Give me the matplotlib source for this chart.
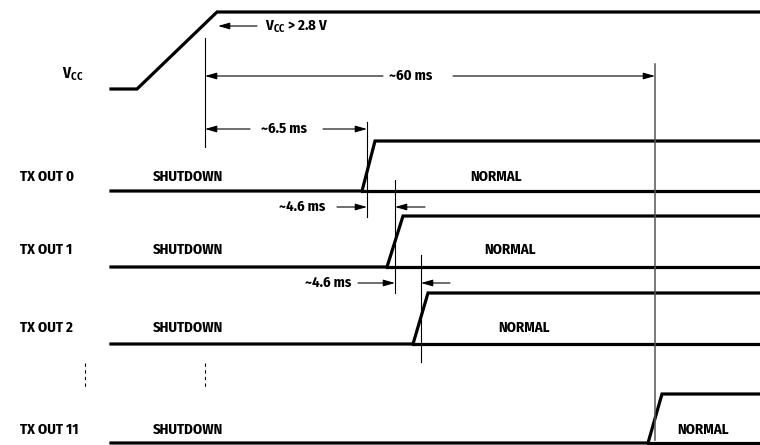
import matplotlib
matplotlib.use("Agg")
import matplotlib.pyplot as plt
from matplotlib import font_manager

# a narrow bold face, first one that is installed
installed = {f.name for f in font_manager.fontManager.ttflist}
wanted = ["Fira Sans Condensed", "PT Sans Narrow", "Roboto Condensed",
          "Asap Condensed", "Barlow Condensed", "Liberation Sans Narrow"]
faces = [n for n in wanted if n in installed][:1] + ["DejaVu Sans"]
plt.rcParams["font.family"] = faces
plt.rcParams["font.weight"] = "bold"
plt.rcParams["mathtext.fontset"] = "custom"
plt.rcParams["mathtext.rm"] = faces[0] + ":bold"
plt.rcParams["mathtext.default"] = "rm"

# diagram data (schematic units, x = time, y = screen rows)
vcc_x = [111, 137, 217, 760]
vcc_y = [89, 89, 12, 12]

channels = ["TX OUT 0", "TX OUT 1", "TX OUT 2", "TX OUT 11"]
low_level = [191, 267, 344, 443]
high_level = [141, 216, 293, 394]
rise_start = [362, 387, 413, 648]
rise_end = [375, 403, 428, 662]
label_row = [177, 250, 328, 430]
normal_x = [496, 510, 524, 703]

t_vcc_ok = 205      # Vcc > 2.8 V
t_first = 367       # TX OUT 0 enabled (~6.5 ms)
t_second = 395      # TX OUT 1 (~4.6 ms later)
t_third = 421       # TX OUT 2 (~4.6 ms later)
t_last = 655        # TX OUT 11 (~60 ms)

fig = plt.figure(figsize=(7.6, 4.45), dpi=100)
ax = fig.add_axes([0, 0, 1, 1])
ax.set_xlim(0, 760)
ax.set_ylim(445, 0)
ax.axis("off")

fs = 10.6
thick = 2.3
thin = 0.8

# VCC trace
ax.plot(vcc_x, vcc_y, color="black", lw=thick, solid_joinstyle="miter")
ax.text(62, 74, "V$_{CC}$", fontsize=fs + 0.5, va="center", ha="left")

# channel traces
for i, name in enumerate(channels):
    lo, hi = low_level[i], high_level[i]
    ax.plot([111, rise_start[i], rise_end[i], 760], [lo, lo, hi, hi],
            color="black", lw=thick, solid_joinstyle="miter")
    ax.plot([rise_start[i], 760], [lo, lo], color="black", lw=thick)
    ax.text(20, label_row[i], name, fontsize=fs, va="center", ha="left")
    ax.text(153, label_row[i], "SHUTDOWN", fontsize=fs, va="center", ha="left")
    ax.text(normal_x[i], label_row[i], "NORMAL", fontsize=fs, va="center", ha="center")


def arrow(x_head, x_tail, y):
    ax.annotate("", xy=(x_head, y), xytext=(x_tail, y),
                arrowprops=dict(arrowstyle="-|>,head_length=0.7,head_width=0.2",
                                lw=thin, color="black", shrinkA=0, shrinkB=0))


# reference vertical lines
ax.plot([t_vcc_ok, t_vcc_ok], [38, 147], color="black", lw=thin)
ax.plot([t_first, t_first], [122, 217], color="black", lw=thin)
ax.plot([t_second, t_second], [180, 293], color="black", lw=thin)
ax.plot([t_third, t_third], [255, 362], color="black", lw=thin)
ax.plot([t_last, t_last], [64, 440], color="#555555", lw=1.1)

# Vcc > 2.8 V
arrow(218, 257, 26)
ax.text(265, 27, "V$_{CC}$ > 2.8 V", fontsize=fs, va="center", ha="left")

# ~60 ms
arrow(t_vcc_ok, 383, 76)
ax.text(411, 76, "~60 ms", fontsize=fs, va="center", ha="center")
arrow(t_last, 453, 76)

# ~6.5 ms
arrow(t_vcc_ok, 250, 129)
ax.text(284, 129, "~6.5 ms", fontsize=fs, va="center", ha="center")
arrow(t_first, 323, 129)

# ~4.6 ms (0 -> 1)
ax.text(302, 207, "~4.6 ms", fontsize=fs, va="center", ha="center")
arrow(t_first, 337, 207)
arrow(t_second, 425, 207)

# ~4.6 ms (1 -> 2)
ax.text(328, 283, "~4.6 ms", fontsize=fs, va="center", ha="center")
arrow(t_second, 358, 283)
arrow(t_third, 450, 283)

# continuation marks
for x in (85, 205):
    ax.plot([x, x], [363, 388], color="black", lw=thin, ls=(0, (3, 3)))

fig.savefig("out.png", dpi=100)
